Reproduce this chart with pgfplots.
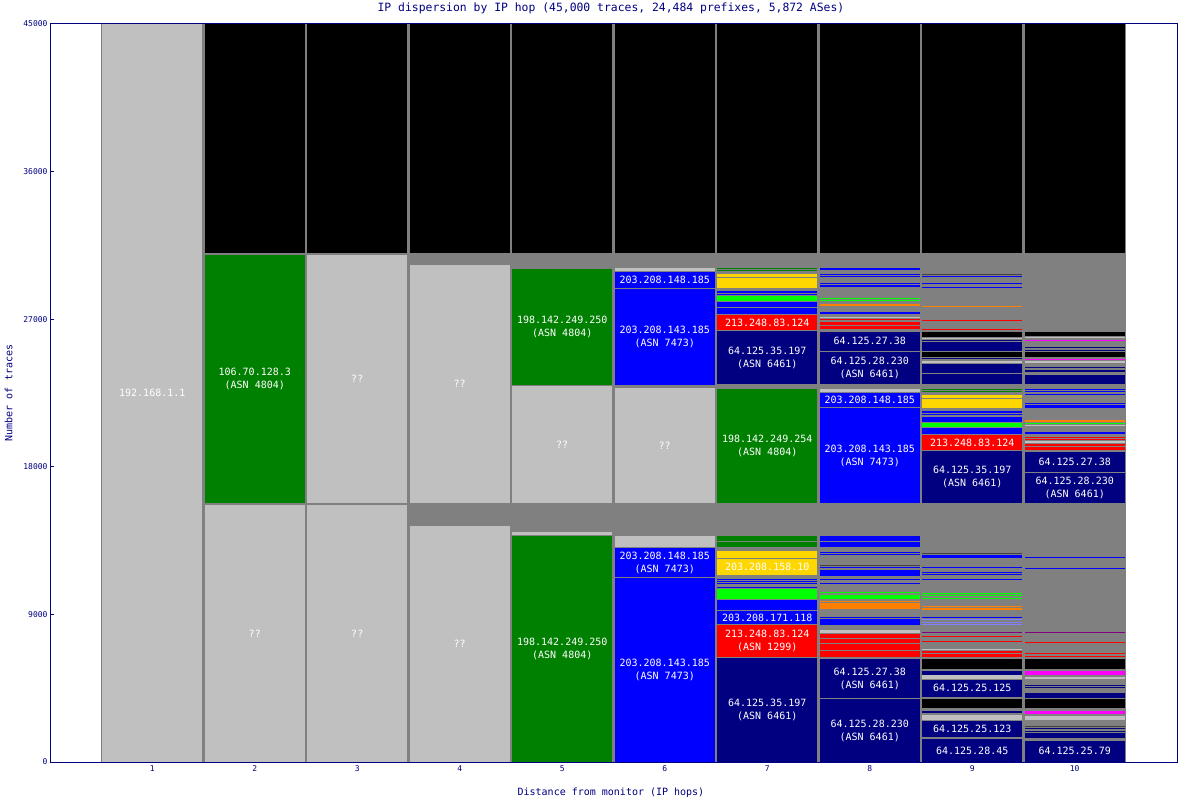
\documentclass[border=0pt]{standalone}
\usepackage{fontspec}
\setmainfont{DejaVu Sans Mono}
\usepackage{pgfplots}
\pgfplotsset{compat=1.18}

\definecolor{navy}{RGB}{0,0,128}
\definecolor{lgrey}{RGB}{192,192,192}
\definecolor{mgrey}{RGB}{128,128,128}
\definecolor{dgrey}{RGB}{64,64,64}
\definecolor{dgreen}{RGB}{0,128,0}
\definecolor{gold}{RGB}{255,215,0}
\definecolor{lgreen}{RGB}{0,255,0}
\definecolor{orng}{RGB}{255,128,0}
\definecolor{lblue}{RGB}{128,128,255}
\definecolor{purp}{RGB}{128,0,128}
\definecolor{mag}{RGB}{255,0,255}
\definecolor{blu}{RGB}{0,0,255}
\definecolor{rd}{RGB}{255,0,0}

\tikzset{lbl/.style={font=\fontsize{10}{13}\selectfont, text=white, align=center}}

% one block of a hop column: hop, from, to, colour
\newcommand\seg[4]{%
  \pgfmathsetmacro\xa{#1-0.49}\pgfmathsetmacro\xb{#1+0.49}%
  \addplot[fill=#4, draw=none] coordinates {(\xa,#2) (\xb,#2) (\xb,#3) (\xa,#3)};}
\newcommand\lbl[3]{\node[lbl] at (axis cs:#1,#2) {#3};}

\begin{document}
\begin{tikzpicture}
\begin{axis}[
  scale only axis, width=1126pt, height=738pt,
  xmin=0.012, xmax=10.998, ymin=0, ymax=45000,
  axis line style={navy, line width=1pt},
  xtick={1,...,10}, xtick style={draw=none},
  ytick={0,9000,...,45000}, ytick style={navy, line width=1pt}, ytick pos=left,
  tick align=inside, major tick length=3pt,
  tick label style={font=\fontsize{8}{9}\selectfont, text=navy},
  /pgf/number format/assume math mode=true,
  /pgf/number format/1000 sep={},
  scaled y ticks=false,
  title={IP dispersion by IP hop (45,000 traces, 24,484 prefixes, 5,872 ASes)},
  every axis title/.style={at={(axis description cs:0.4973,1.0217)}, anchor=center,
    font=\fontsize{11.4}{13}\selectfont, text=navy},
  xlabel={Distance from monitor (IP hops)},
  every axis x label/.style={at={(axis description cs:0.4973,-0.042)}, anchor=center,
    font=\fontsize{10}{12}\selectfont, text=navy},
  ylabel={Number of traces},
  every axis y label/.style={at={(axis description cs:-0.0377,0.5)}, anchor=center,
    rotate=90, font=\fontsize{10}{12}\selectfont, text=navy},
]
\addplot[fill=mgrey, draw=none] coordinates {(0.5,0) (10.5,0) (10.5,45000) (0.5,45000)};
% hop 1
\seg{1}{0}{45000}{lgrey}
% unanswered part
\seg{2}{31037}{45000}{black}
\seg{3}{31037}{45000}{black}
\seg{4}{31037}{45000}{black}
\seg{5}{31037}{45000}{black}
\seg{6}{31037}{45000}{black}
\seg{7}{31037}{45000}{black}
\seg{8}{31037}{45000}{black}
\seg{9}{31037}{45000}{black}
\seg{10}{31037}{45000}{black}
% hop 2
\seg{2}{0}{15671}{lgrey}
\seg{2}{15793}{30915}{dgreen}
% hop 3
\seg{3}{0}{15671}{lgrey}
\seg{3}{15793}{30915}{lgrey}
% hop 4
\seg{4}{0}{14390}{lgrey}
\seg{4}{15793}{30305}{lgrey}
% hop 5
\seg{5}{0}{13780}{dgreen}
\seg{5}{13841}{14043}{lgrey}
\seg{5}{15793}{22927}{lgrey}
\seg{5}{22988}{30080}{dgreen}
% hop 6
\seg{6}{0}{11220}{blu}
\seg{6}{11280}{13049}{blu}
\seg{6}{13110}{13780}{lgrey}
\seg{6}{15793}{22823}{lgrey}
\seg{6}{22988}{28841}{blu}
\seg{6}{28921}{29897}{blu}
\seg{6}{29939}{30122}{lgrey}
% hop 7
\seg{7}{0}{6360}{navy}
\seg{7}{6421}{8335}{rd}
\seg{7}{8396}{9207}{blu}
\seg{7}{9268}{9878}{blu}
\seg{7}{9939}{10531}{lgreen}
\seg{7}{10591}{10671}{blu}
\seg{7}{10854}{10896}{blu}
\seg{7}{11018}{11055}{blu}
\seg{7}{11116}{11159}{blu}
\seg{7}{11402}{12378}{gold}
\seg{7}{12457}{12866}{gold}
\seg{7}{13128}{13396}{dgreen}
\seg{7}{13476}{13780}{dgreen}
\seg{7}{15793}{22744}{dgreen}
\seg{7}{23030}{26280}{navy}
\seg{7}{26341}{27256}{rd}
\seg{7}{27335}{27701}{blu}
\seg{7}{27762}{28049}{blu}
\seg{7}{28110}{28397}{lgreen}
\seg{7}{28494}{28537}{blu}
\seg{7}{28598}{28640}{blu}
\seg{7}{28701}{28738}{blu}
\seg{7}{28921}{29531}{gold}
\seg{7}{29592}{29756}{gold}
\seg{7}{29939}{29982}{dgreen}
\seg{7}{30061}{30104}{dgreen}
% hop 8
\seg{8}{0}{3841}{navy}
\seg{8}{3902}{6262}{navy}
\seg{8}{6421}{6787}{rd}
\seg{8}{6848}{7213}{rd}
\seg{8}{7274}{7518}{rd}
\seg{8}{7579}{7823}{rd}
\seg{8}{7884}{8067}{lgrey}
\seg{8}{8354}{8738}{blu}
\seg{8}{8799}{8860}{blu}
\seg{8}{9311}{9677}{orng}
\seg{8}{9774}{9835}{orng}
\seg{8}{9939}{10183}{lgreen}
\seg{8}{10287}{10384}{lgreen}
\seg{8}{10835}{10896}{blu}
\seg{8}{11116}{11159}{blu}
\seg{8}{11360}{11707}{blu}
\seg{8}{11811}{11872}{blu}
\seg{8}{11970}{12012}{dgrey}
\seg{8}{12604}{12683}{blu}
\seg{8}{12762}{12805}{blu}
\seg{8}{13128}{13396}{blu}
\seg{8}{13476}{13780}{blu}
\seg{8}{15793}{21585}{blu}
\seg{8}{21646}{22518}{blu}
\seg{8}{22579}{22762}{lgrey}
\seg{8}{23030}{25000}{navy}
\seg{8}{25079}{26238}{navy}
\seg{8}{26402}{26585}{rd}
\seg{8}{26646}{26750}{rd}
\seg{8}{26787}{26829}{rd}
\seg{8}{26951}{27031}{rd}
\seg{8}{27091}{27152}{lgrey}
\seg{8}{27335}{27439}{blu}
\seg{8}{27787}{27945}{orng}
\seg{8}{28110}{28171}{lgreen}
\seg{8}{28275}{28311}{lgreen}
\seg{8}{28945}{29085}{blu}
\seg{8}{29128}{29189}{blu}
\seg{8}{29592}{29634}{blu}
\seg{8}{29695}{29738}{blu}
\seg{8}{29982}{30043}{blu}
\seg{8}{30080}{30141}{blu}
% hop 9
\seg{9}{0}{1402}{navy}
\seg{9}{1506}{2500}{navy}
\seg{9}{2561}{2884}{lgrey}
\seg{9}{2970}{3110}{navy}
\seg{9}{3293}{3841}{black}
\seg{9}{3982}{5000}{navy}
\seg{9}{5079}{5287}{lgrey}
\seg{9}{5323}{5549}{navy}
\seg{9}{5689}{6299}{black}
\seg{9}{6421}{6567}{rd}
\seg{9}{6628}{6768}{rd}
\seg{9}{6848}{6890}{lgrey}
\seg{9}{7317}{7396}{rd}
\seg{9}{7604}{7683}{rd}
\seg{9}{7884}{7945}{purp}
\seg{9}{8372}{8433}{lblue}
\seg{9}{8494}{8555}{lblue}
\seg{9}{8640}{8701}{lblue}
\seg{9}{8780}{8823}{blu}
\seg{9}{9287}{9372}{orng}
\seg{9}{9451}{9531}{orng}
\seg{9}{9957}{10018}{lgreen}
\seg{9}{10104}{10165}{lgreen}
\seg{9}{10262}{10323}{lgreen}
\seg{9}{11116}{11159}{blu}
\seg{9}{11402}{11482}{blu}
\seg{9}{11543}{11604}{blu}
\seg{9}{11811}{11909}{blu}
\seg{9}{12457}{12622}{blu}
\seg{9}{12683}{12726}{dgrey}
\seg{9}{15793}{18963}{navy}
\seg{9}{19024}{19939}{rd}
\seg{9}{20018}{20366}{blu}
\seg{9}{20427}{20689}{lgreen}
\seg{9}{20750}{21055}{blu}
\seg{9}{21177}{21220}{blu}
\seg{9}{21280}{21323}{blu}
\seg{9}{21384}{21421}{blu}
\seg{9}{21604}{22134}{gold}
\seg{9}{22195}{22396}{gold}
\seg{9}{22561}{22603}{dgreen}
\seg{9}{22701}{22744}{dgreen}
\seg{9}{23030}{23659}{navy}
\seg{9}{23720}{24268}{navy}
\seg{9}{24311}{24470}{lgrey}
\seg{9}{24555}{24616}{navy}
\seg{9}{24677}{24982}{black}
\seg{9}{25079}{25591}{navy}
\seg{9}{25671}{25732}{navy}
\seg{9}{25793}{25872}{lgrey}
\seg{9}{25933}{26238}{black}
\seg{9}{26360}{26402}{rd}
\seg{9}{26909}{26951}{rd}
\seg{9}{27762}{27805}{orng}
\seg{9}{28921}{28963}{blu}
\seg{9}{29146}{29189}{blu}
\seg{9}{29592}{29634}{blu}
\seg{9}{29695}{29738}{dgrey}
% hop 10
\seg{10}{0}{1299}{navy}
\seg{10}{1463}{1750}{navy}
\seg{10}{1829}{1909}{navy}
\seg{10}{2012}{2091}{navy}
\seg{10}{2152}{2195}{dgrey}
\seg{10}{2561}{2823}{lgrey}
\seg{10}{2945}{3110}{mag}
\seg{10}{3293}{3841}{black}
\seg{10}{3902}{4226}{navy}
\seg{10}{4512}{4573}{navy}
\seg{10}{4652}{4713}{navy}
\seg{10}{5079}{5201}{lgrey}
\seg{10}{5305}{5549}{mag}
\seg{10}{5689}{6299}{black}
\seg{10}{6421}{6482}{rd}
\seg{10}{6585}{6646}{rd}
\seg{10}{7274}{7335}{rd}
\seg{10}{7884}{7945}{purp}
\seg{10}{11787}{11829}{blu}
\seg{10}{12457}{12500}{blu}
\seg{10}{15793}{17640}{navy}
\seg{10}{17701}{18921}{navy}
\seg{10}{19043}{19226}{rd}
\seg{10}{19268}{19390}{rd}
\seg{10}{19470}{19573}{lgrey}
\seg{10}{19652}{19713}{rd}
\seg{10}{19756}{19835}{rd}
\seg{10}{20018}{20140}{blu}
\seg{10}{20506}{20549}{lgrey}
\seg{10}{20610}{20689}{lgreen}
\seg{10}{20750}{20872}{orng}
\seg{10}{21604}{21768}{blu}
\seg{10}{21848}{21909}{blu}
\seg{10}{22360}{22421}{blu}
\seg{10}{22543}{22604}{blu}
\seg{10}{22683}{22744}{blu}
\seg{10}{23030}{23598}{navy}
\seg{10}{23762}{23902}{navy}
\seg{10}{24024}{24085}{navy}
\seg{10}{24329}{24451}{lgrey}
\seg{10}{24494}{24591}{mag}
\seg{10}{24695}{25000}{black}
\seg{10}{25079}{25140}{navy}
\seg{10}{25244}{25305}{navy}
\seg{10}{25689}{25750}{mag}
\seg{10}{25854}{25896}{lgrey}
\seg{10}{25957}{26201}{black}
% labels
\lbl{1}{22500}{192.168.1.1}
\lbl{2}{7835}{??}
\lbl{2}{23354}{106.70.128.3\\(ASN 4804)}
\lbl{3}{7835}{??}
\lbl{3}{23354}{??}
\lbl{4}{7195}{??}
\lbl{4}{23049}{??}
\lbl{5}{6890}{198.142.249.250\\(ASN 4804)}
\lbl{5}{26534}{198.142.249.250\\(ASN 4804)}
\lbl{5}{19360}{??}
\lbl{6}{29409}{203.208.148.185}
\lbl{6}{25915}{203.208.143.185\\(ASN 7473)}
\lbl{6}{19308}{??}
\lbl{6}{12165}{203.208.148.185\\(ASN 7473)}
\lbl{6}{5610}{203.208.143.185\\(ASN 7473)}
\lbl{7}{26799}{213.248.83.124}
\lbl{7}{24655}{64.125.35.197\\(ASN 6461)}
\lbl{7}{19268}{198.142.249.254\\(ASN 4804)}
\lbl{7}{11890}{203.208.158.10}
\lbl{7}{8802}{203.208.171.118}
\lbl{7}{7378}{213.248.83.124\\(ASN 1299)}
\lbl{7}{3180}{64.125.35.197\\(ASN 6461)}
\lbl{8}{25658}{64.125.27.38}
\lbl{8}{24015}{64.125.28.230\\(ASN 6461)}
\lbl{8}{22082}{203.208.148.185}
\lbl{8}{18689}{203.208.143.185\\(ASN 7473)}
\lbl{8}{5082}{64.125.27.38\\(ASN 6461)}
\lbl{8}{1920}{64.125.28.230\\(ASN 6461)}
\lbl{9}{19482}{213.248.83.124}
\lbl{9}{17378}{64.125.35.197\\(ASN 6461)}
\lbl{9}{4491}{64.125.25.125}
\lbl{9}{2003}{64.125.25.123}
\lbl{9}{700}{64.125.28.45}
\lbl{10}{18311}{64.125.27.38}
\lbl{10}{16716}{64.125.28.230\\(ASN 6461)}
\lbl{10}{700}{64.125.25.79}
\end{axis}
\pgfresetboundingbox
\path[use as bounding box] ([xshift=-51pt,yshift=-38pt]current axis.south west)
  rectangle ([xshift=1pt,yshift=24pt]current axis.north east);
\end{tikzpicture}
\end{document}
